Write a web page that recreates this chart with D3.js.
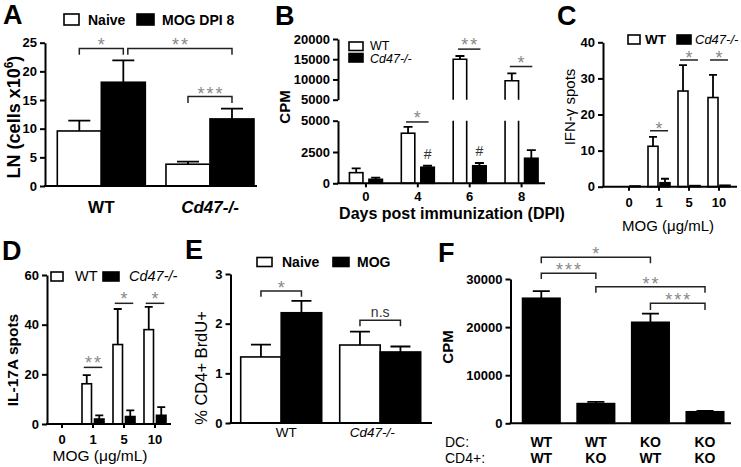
<!DOCTYPE html>
<html><head><meta charset="utf-8">
<script src="https://cdn.jsdelivr.net/npm/d3@7"></script>
<style>body{margin:0;background:#fff}svg{display:block}text{font-family:Arial,'Liberation Sans',Helvetica,sans-serif}</style>
</head><body><svg id="c" width="741" height="467"></svg>
<script>
// ---------------- Data ----------------
const aGroups = ["WT", "Cd47-/-"];
const aSeries = ["Naive", "MOG DPI 8"];
const aNaive = [9.6, 3.8];
const aNaiveSem = [1.8, 0.45];
const aMog = [18.1, 11.7];
const aMogSem = [3.8, 1.8];
const aTicks = [0, 5, 10, 15, 20, 25];

const bDays = ["0", "4", "6", "8"];
const bSeries = ["WT", "Cd47-/-"];
const bWT = [850, 4000, 15000, 9700];
const bWTSem = [350, 500, 800, 1800];
const bKO = [320, 1280, 1400, 2000];
const bKOSem = [130, 120, 220, 650];
const bTicksLow = [0, 2500, 5000];
const bTicksUp = [5000, 10000, 15000, 20000];

const cDoses = ["0", "1", "5", "10"];
const cSeries = ["WT", "Cd47-/-"];
const cWT = [0, 11.2, 26.5, 24.7];
const cWTSem = [0, 2.6, 7.2, 6.3];
const cKO = [0.2, 1.1, 0.3, 0.4];
const cKOSem = [0, 1.1, 0.1, 0.1];
const cTicks = [0, 10, 20, 30, 40];

const dDoses = ["0", "1", "5", "10"];
const dSeries = ["WT", "Cd47-/-"];
const dWT = [0, 16.2, 32, 38];
const dWTSem = [0, 3.5, 14.3, 9.2];
const dKO = [0, 2, 3, 3.5];
const dKOSem = [0, 1.5, 2.5, 3.3];
const dTicks = [0, 20, 40, 60];

const eGroups = ["WT", "Cd47-/-"];
const eSeries = ["Naive", "MOG"];
const eNaive = [1.33, 1.57];
const eNaiveSem = [0.25, 0.27];
const eMog = [2.22, 1.43];
const eMogSem = [0.24, 0.11];
const eTicks = [0, 1, 2, 3];

const fDC = ["WT", "WT", "KO", "KO"];
const fCD4 = ["WT", "KO", "WT", "KO"];
const fCPM = [26000, 4100, 21000, 2400];
const fSem = [1500, 350, 1800, 200];
const fTicks = [0, 10000, 20000, 30000];

// significance annotations (y in data units)
const aSig = [
  { a: [0, 0], b: [0, 1], y: 24.0, drop: 1.1, label: "*" },
  { a: [0, 1], b: [1, 1], y: 24.0, drop: 1.1, label: "**", dx1: 4.5 },
  { a: [1, 0], b: [1, 1], y: 15.6, drop: 1.1, label: "***" }
];
const bSig = [ { day: 1, y: 4900, label: "*" }, { day: 2, y: 17500, label: "**" }, { day: 3, y: 13200, label: "*" } ];
const bHash = [1, 2];
const cSig = [ { dose: 1, y: 15.5, label: "*" }, { dose: 2, y: 35.1, label: "*" }, { dose: 3, y: 35.1, label: "*" } ];
const dSig = [ { dose: 1, y: 22.8, label: "**" }, { dose: 2, y: 48.6, label: "*" }, { dose: 3, y: 48.6, label: "*" } ];
const eSig = [
  { a: [0, 0], b: [0, 1], y: 2.66, drop: 0.12, label: "*", star: true },
  { a: [1, 0], b: [1, 1], y: 2.07, drop: 0.12, label: "n.s", star: false }
];
const fSig = [
  { a: 0, b: 2, y: 34500, drop: 1250, label: "*" },
  { a: 0, b: 1, y: 31200, drop: 1200, label: "***" },
  { a: 1, b: 3, y: 28400, drop: 1250, label: "**" },
  { a: 2, b: 3, y: 24950, drop: 1400, label: "***" }
];

// ---------------- Helpers ----------------
const F = "Arial, 'Liberation Sans', Helvetica, sans-serif";
const STAR = "#888";
const svg = d3.select("#c");
svg.append("rect").attr("width", 741).attr("height", 467).attr("fill", "#fff");

function text(g, x, y, s, o = {}) {
  const t = g.append("text").attr("x", x).attr("y", y).text(s)
    .attr("font-family", o.family || F)
    .attr("font-size", o.size || 13).attr("font-weight", o.bold ? "bold" : "normal")
    .attr("font-style", o.italic ? "italic" : "normal")
    .attr("text-anchor", o.anchor || "start").attr("fill", o.fill || "#000");
  if (o.rotate) t.attr("transform", `rotate(-90,${x},${y})`);
  if (o.ls) t.attr("letter-spacing", o.ls);
  return t;
}
function yAxis(g, scale, x, ticks) {
  const a = g.append("g").attr("transform", `translate(${x},0)`)
    .call(d3.axisLeft(scale).tickValues(ticks).tickFormat(d3.format("d")).tickSize(5).tickSizeOuter(0).tickPadding(3));
  a.select(".domain").attr("stroke", "#000").attr("stroke-width", 2);
  a.selectAll(".tick line").attr("stroke", "#000").attr("stroke-width", 2);
  a.selectAll(".tick text").attr("font-family", F).attr("font-size", 13).attr("font-weight", "bold").attr("fill", "#000");
  return a;
}
function xTicks(g, band, y, pad) {
  const a = g.append("g").attr("transform", `translate(0,${y})`)
    .call(d3.axisBottom(band).tickSize(4).tickSizeOuter(0).tickPadding(pad));
  a.select(".domain").remove();
  a.selectAll(".tick line").attr("stroke", "#000").attr("stroke-width", 2);
  a.selectAll(".tick text").attr("font-family", F).attr("font-size", 13).attr("font-weight", "bold").attr("fill", "#000");
}
function hline(g, x1, x2, y) {
  g.append("line").attr("x1", x1).attr("x2", x2).attr("y1", y).attr("y2", y).attr("stroke", "#000").attr("stroke-width", 2);
}
function bar(g, x, w, yTop, yBase, fill) {
  g.append("rect").attr("x", x).attr("y", Math.min(yTop, yBase)).attr("width", w)
    .attr("height", Math.abs(yBase - yTop)).attr("fill", fill).attr("stroke", "#000").attr("stroke-width", 1.6);
}
function err(g, cx, yv, ye, cap) {
  if (Math.abs(yv - ye) < 0.5) return;
  g.append("path").attr("d", `M${cx},${yv}V${ye}M${cx - cap},${ye}H${cx + cap}`)
    .attr("stroke", "#000").attr("stroke-width", 1.8).attr("fill", "none");
}
function bracket(g, x1, x2, y, yl1, yl2) {
  g.append("path").attr("d", `M${x1},${yl1}V${y}H${x2}V${yl2}`)
    .attr("stroke", "#222").attr("stroke-width", 1.5).attr("fill", "none");
}
function stars(g, x, y, s) {
  text(g, x + 1, y + 3, s, { family: "'DejaVu Sans', sans-serif", size: 18, anchor: "middle", fill: STAR, ls: 2 });
}
function legendBox(g, x, y, w, h, fill) {
  g.append("rect").attr("x", x).attr("y", y).attr("width", w).attr("height", h)
    .attr("fill", fill).attr("stroke", "#000").attr("stroke-width", 1.6);
}

// ---------------- Panel A ----------------
{
  const g = svg.append("g");
  const y = d3.scaleLinear().domain([0, 25]).range([186, 42.7]);
  const x = d3.scaleBand().domain(aGroups).range([57.3, 254]).paddingInner(0.19);
  const x1 = d3.scaleBand().domain(aSeries).range([0, x.bandwidth()]);
  const vals = [aNaive, aMog], sems = [aNaiveSem, aMogSem], fills = ["#fff", "#000"];
  const cx = (gi, si) => x(aGroups[gi]) + x1(aSeries[si]) + x1.bandwidth() / 2;
  aGroups.forEach((grp, gi) => aSeries.forEach((s, si) => {
    const v = vals[si][gi], e = sems[si][gi];
    bar(g, x(grp) + x1(s), x1.bandwidth(), y(v), y(0), fills[si]);
    err(g, cx(gi, si), y(v), y(v + e), 11);
  }));
  yAxis(g, y, 45, aTicks);
  hline(g, 44, 257, 186);
  aGroups.forEach((grp, gi) => text(g, x(grp) + x.bandwidth() / 2, 213, grp, { size: 17, bold: true, anchor: "middle", italic: gi === 1 }));
  const t = text(g, 20, 117, "LN (cells x10", { size: 18, bold: true, anchor: "middle", rotate: true });
  t.append("tspan").attr("dy", -7).attr("font-size", 12).text("6");
  t.append("tspan").attr("dy", 7).text(")");
  legendBox(g, 64, 14, 15, 11, "#fff");
  text(g, 88, 25, aSeries[0], { size: 14, bold: true });
  legendBox(g, 137, 14, 17, 11, "#000");
  text(g, 162, 25, aSeries[1], { size: 14, bold: true });
  aSig.forEach(s => {
    const x1p = cx(...s.a) + (s.dx1 || 0), x2p = cx(...s.b);
    bracket(g, x1p, x2p, y(s.y), y(s.y - s.drop), y(s.y - s.drop));
    stars(g, (x1p + x2p) / 2, y(s.y), s.label);
  });
  text(g, 3, 24, "A", { size: 27, bold: true });
}

// ---------------- Panel B ----------------
{
  const g = svg.append("g");
  const yLow = d3.scaleLinear().domain([0, 5000]).range([183.3, 120.7]);
  const yUp = d3.scaleLinear().domain([5000, 20000]).range([99.7, 39]);
  const y = v => v <= 5000 ? yLow(v) : yUp(v);
  const x = d3.scaleBand().domain(bDays).range([340, 547.5]).paddingInner(0.364).paddingOuter(0.182);
  const x1 = d3.scaleBand().domain(bSeries).range([0, x.bandwidth()]).paddingInner(0.308);
  const vals = [bWT, bKO], sems = [bWTSem, bKOSem], fills = ["#fff", "#000"];
  const cx = (di, si) => x(bDays[di]) + x1(bSeries[si]) + x1.bandwidth() / 2;
  bDays.forEach((d, di) => bSeries.forEach((s, si) => {
    const v = vals[si][di], e = sems[si][di], bx = x(d) + x1(s), w = x1.bandwidth();
    if (v <= 5000) {
      bar(g, bx, w, y(v), y(0), fills[si]);
    } else {
      g.append("rect").attr("x", bx).attr("y", yLow(5000)).attr("width", w).attr("height", yLow(0) - yLow(5000)).attr("fill", fills[si]);
      g.append("path").attr("d", `M${bx},${yLow(0)}V${yLow(5000)}M${bx + w},${yLow(0)}V${yLow(5000)}`).attr("stroke", "#000").attr("stroke-width", 1.6);
      g.append("rect").attr("x", bx).attr("y", yUp(v)).attr("width", w).attr("height", yUp(5000) - yUp(v)).attr("fill", fills[si]);
      g.append("path").attr("d", `M${bx},${yUp(5000)}V${yUp(v)}H${bx + w}V${yUp(5000)}`).attr("stroke", "#000").attr("stroke-width", 1.6).attr("fill", "none");
    }
    err(g, cx(di, si), y(v), y(v + e), 4.5);
  }));
  yAxis(g, yLow, 338, bTicksLow);
  yAxis(g, yUp, 338, bTicksUp);
  hline(g, 337, 545, 183.3);
  xTicks(g, x, 183.3, 4);
  text(g, 452, 219, "Days post immunization (DPI)", { size: 16, bold: true, anchor: "middle" });
  text(g, 289.5, 107, "CPM", { size: 15, bold: true, anchor: "middle", rotate: true });
  legendBox(g, 349, 42, 14, 8.5, "#fff");
  text(g, 370, 50, bSeries[0], { size: 12.5 });
  legendBox(g, 349, 53.5, 14, 8.5, "#000");
  text(g, 370, 62.5, bSeries[1], { size: 12.5, italic: true });
  bSig.forEach(s => {
    const xa = cx(s.day, 0) - 2, xb = cx(s.day, 1) + 1;
    g.append("line").attr("x1", xa).attr("x2", xb).attr("y1", y(s.y)).attr("y2", y(s.y)).attr("stroke", "#222").attr("stroke-width", 1.5);
    stars(g, (xa + xb) / 2, y(s.y) - 1, s.label);
  });
  bHash.forEach(di => text(g, cx(di, 1), y(bKO[di] + bKOSem[di]) - 7, "#", { size: 14, anchor: "middle", fill: "#333" }));
  text(g, 275, 25, "B", { size: 27, bold: true });
}

// ---------------- Panel C ----------------
{
  const g = svg.append("g");
  const y = d3.scaleLinear().domain([0, 40]).range([186.7, 42.3]);
  const x = d3.scaleBand().domain(cDoses).range([614, 734]).paddingInner(0.267).paddingOuter(0.1335);
  const x1 = d3.scaleBand().domain(cSeries).range([0, x.bandwidth()]).paddingInner(0.167);
  const vals = [cWT, cKO], sems = [cWTSem, cKOSem], fills = ["#fff", "#000"];
  const cx = (di, si) => x(cDoses[di]) + x1(cSeries[si]) + x1.bandwidth() / 2;
  cDoses.forEach((d, di) => cSeries.forEach((s, si) => {
    const v = vals[si][di], e = sems[si][di];
    if (v > 0) bar(g, x(d) + x1(s), x1.bandwidth(), y(v), y(0), fills[si]);
    err(g, cx(di, si), y(v), y(v + e), 4);
  }));
  yAxis(g, y, 603, cTicks);
  hline(g, 602, 737, 186.7);
  xTicks(g, x, 186.7, 7);
  text(g, 575, 107, "IFN-γ spots", { size: 15, anchor: "middle", rotate: true });
  text(g, 668, 231, "MOG (μg/mL)", { size: 15, anchor: "middle" });
  legendBox(g, 628, 35, 12, 9, "#fff");
  text(g, 645, 44, cSeries[0], { size: 13.5, bold: true });
  legendBox(g, 677, 35, 14, 9, "#000");
  text(g, 695, 44, cSeries[1], { size: 13, italic: true });
  cSig.forEach(s => {
    const xa = cx(s.dose, 0) - 3, xb = cx(s.dose, 1) + 3;
    g.append("line").attr("x1", xa).attr("x2", xb).attr("y1", y(s.y)).attr("y2", y(s.y)).attr("stroke", "#222").attr("stroke-width", 1.5);
    stars(g, (xa + xb) / 2, y(s.y) + 1, s.label);
  });
  text(g, 557, 25, "C", { size: 27, bold: true });
}

// ---------------- Panel D ----------------
{
  const g = svg.append("g");
  const y = d3.scaleLinear().domain([0, 60]).range([424, 275]);
  const x = d3.scaleBand().domain(dDoses).range([46.5, 170.5]).paddingInner(0.29).paddingOuter(0.145);
  const x1 = d3.scaleBand().domain(dSeries).range([0, x.bandwidth()]).paddingInner(0.24);
  const vals = [dWT, dKO], sems = [dWTSem, dKOSem], fills = ["#fff", "#000"];
  const cx = (di, si) => x(dDoses[di]) + x1(dSeries[si]) + x1.bandwidth() / 2;
  dDoses.forEach((d, di) => dSeries.forEach((s, si) => {
    const v = vals[si][di], e = sems[si][di];
    if (v > 0) bar(g, x(d) + x1(s), x1.bandwidth(), y(v), y(0), fills[si]);
    err(g, cx(di, si), y(v), y(v + e), 4);
  }));
  yAxis(g, y, 47, dTicks);
  hline(g, 46, 171, 424);
  xTicks(g, x, 424, 7);
  text(g, 18, 360, "IL-17A spots", { size: 15.5, bold: true, anchor: "middle", rotate: true });
  text(g, 100, 461, "MOG (μg/mL)", { size: 15.5, anchor: "middle" });
  legendBox(g, 51, 272, 12, 9, "#fff");
  text(g, 75, 281, dSeries[0], { size: 14.5 });
  legendBox(g, 103, 272, 16, 9, "#000");
  text(g, 129, 281, dSeries[1], { size: 14.5, italic: true });
  dSig.forEach(s => {
    const xa = cx(s.dose, 0) - 3, xb = cx(s.dose, 1) + 3;
    g.append("line").attr("x1", xa).attr("x2", xb).attr("y1", y(s.y)).attr("y2", y(s.y)).attr("stroke", "#222").attr("stroke-width", 1.5);
    stars(g, (xa + xb) / 2, y(s.y) - 1, s.label);
  });
  text(g, 2, 260, "D", { size: 27, bold: true });
}

// ---------------- Panel E ----------------
{
  const g = svg.append("g");
  const y = d3.scaleLinear().domain([0, 3]).range([423, 274]);
  const x = d3.scaleBand().domain(eGroups).range([240.7, 420.7]).paddingInner(0.182);
  const x1 = d3.scaleBand().domain(eSeries).range([0, x.bandwidth()]);
  const vals = [eNaive, eMog], sems = [eNaiveSem, eMogSem], fills = ["#fff", "#000"];
  const cx = (gi, si) => x(eGroups[gi]) + x1(eSeries[si]) + x1.bandwidth() / 2;
  eGroups.forEach((grp, gi) => eSeries.forEach((s, si) => {
    const v = vals[si][gi], e = sems[si][gi];
    bar(g, x(grp) + x1(s), x1.bandwidth(), y(v), y(0), fills[si]);
    err(g, cx(gi, si), y(v), y(v + e), 10);
  }));
  yAxis(g, y, 230.5, eTicks);
  hline(g, 229.5, 432, 423);
  eGroups.forEach((grp, gi) => text(g, x(grp) + x.bandwidth() / 2 + (gi === 0 ? 5 : -8), 437, grp, { size: 13.5, anchor: "middle", italic: gi === 1 }));
  text(g, 207, 368, "% CD4+ BrdU+", { size: 16.5, anchor: "middle", rotate: true });
  legendBox(g, 257, 257.5, 15, 9, "#fff");
  text(g, 282, 266.5, eSeries[0], { size: 14, bold: true });
  legendBox(g, 333, 257.5, 16, 9, "#000");
  text(g, 357, 266.5, eSeries[1], { size: 14, bold: true });
  eSig.forEach(s => {
    const x1p = cx(...s.a), x2p = cx(...s.b);
    bracket(g, x1p, x2p, y(s.y), y(s.y - s.drop), y(s.y - s.drop));
    if (s.star) stars(g, (x1p + x2p) / 2, y(s.y), s.label);
    else text(g, (x1p + x2p) / 2, y(s.y) - 3, s.label, { size: 14, anchor: "middle", fill: "#333" });
  });
  text(g, 185, 259, "E", { size: 27, bold: true });
}

// ---------------- Panel F ----------------
{
  const g = svg.append("g");
  const idx = fCPM.map((_, i) => i);
  const y = d3.scaleLinear().domain([0, 30000]).range([423.3, 279]);
  const x = d3.scaleBand().domain(idx).range([514, 732.3]).paddingInner(0.313).paddingOuter(0.1565);
  const cx = i => x(i) + x.bandwidth() / 2;
  idx.forEach(i => {
    bar(g, x(i), x.bandwidth(), y(fCPM[i]), y(0), "#000");
    err(g, cx(i), y(fCPM[i]), y(fCPM[i] + fSem[i]), 8.5);
  });
  yAxis(g, y, 510.5, fTicks);
  hline(g, 509.5, 731, 423.3);
  idx.forEach(i => {
    text(g, cx(i), 447, fDC[i], { size: 14, bold: true, anchor: "middle" });
    text(g, cx(i), 463, fCD4[i], { size: 14, bold: true, anchor: "middle" });
  });
  text(g, 445, 447, "DC:", { size: 14 });
  text(g, 445, 463, "CD4+:", { size: 14 });
  text(g, 452.5, 347, "CPM", { size: 15, bold: true, anchor: "middle", rotate: true });
  fSig.forEach(s => {
    const x1p = cx(s.a), x2p = cx(s.b);
    bracket(g, x1p, x2p, y(s.y), y(s.y - s.drop), y(s.y - s.drop));
    stars(g, (x1p + x2p) / 2, y(s.y), s.label);
  });
  text(g, 438, 262, "F", { size: 27, bold: true });
}
</script></body></html>
